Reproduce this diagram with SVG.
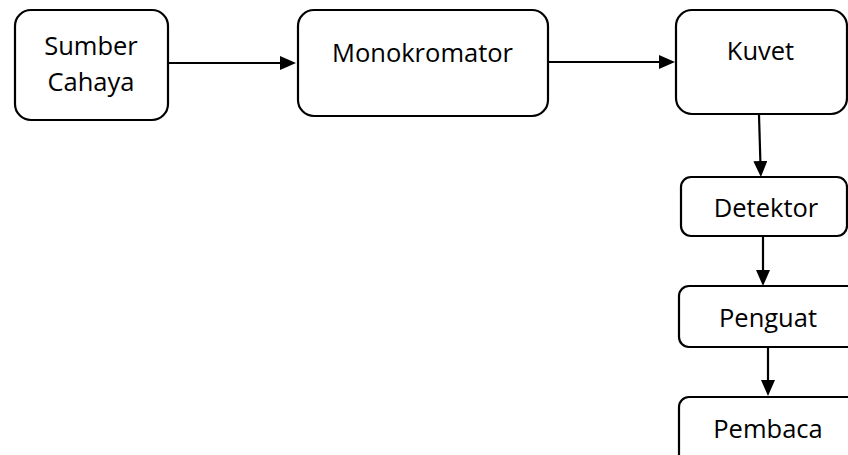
<svg xmlns="http://www.w3.org/2000/svg" width="848" height="455" viewBox="0 0 848 455">
<defs>
<style>
.box{fill:#fff;stroke:#000;stroke-width:2.2}
.lbl{font-family:"Open Sans","Noto Sans",sans-serif;font-size:25.5px;fill:#000;text-anchor:middle}
.con{stroke:#000;stroke-width:2.2;fill:none;marker-end:url(#ah)}
</style>
<marker id="ah" markerUnits="userSpaceOnUse" markerWidth="16" markerHeight="16" viewBox="0 0 16 16" refX="11" refY="7" orient="auto">
<path d="M0,0 L16,7 L0,14 z" fill="#000"/>
</marker>
</defs>
<g id="connectors">
<line class="con" x1="168" y1="63" x2="291" y2="63"/>
<line class="con" x1="548" y1="62" x2="670" y2="62"/>
<line class="con" x1="759" y1="115" x2="760.7" y2="172"/>
<line class="con" x1="763" y1="236" x2="763" y2="281"/>
<line class="con" x1="768" y1="347" x2="768" y2="391"/>
</g>
<g id="sumber-cahaya">
<rect class="box" x="15" y="10" width="153" height="110" rx="16"/>
<text class="lbl" x="91" y="55">Sumber</text>
<text class="lbl" x="91" y="91">Cahaya</text>
</g>
<g id="monokromator">
<rect class="box" x="298" y="10" width="250" height="106" rx="16"/>
<text class="lbl" x="422.5" y="62">Monokromator</text>
</g>
<g id="kuvet">
<rect class="box" x="676" y="10" width="171" height="104" rx="16"/>
<text class="lbl" x="760.5" y="60">Kuvet</text>
</g>
<g id="detektor">
<rect class="box" x="681" y="177" width="166" height="59" rx="10"/>
<text class="lbl" x="766" y="217">Detektor</text>
</g>
<g id="penguat">
<rect class="box" x="679" y="286" width="190" height="61" rx="10"/>
<text class="lbl" x="768" y="327">Penguat</text>
</g>
<g id="pembaca">
<rect class="box" x="679" y="397" width="190" height="80" rx="10"/>
<text class="lbl" x="768" y="438">Pembaca</text>
</g>
</svg>
